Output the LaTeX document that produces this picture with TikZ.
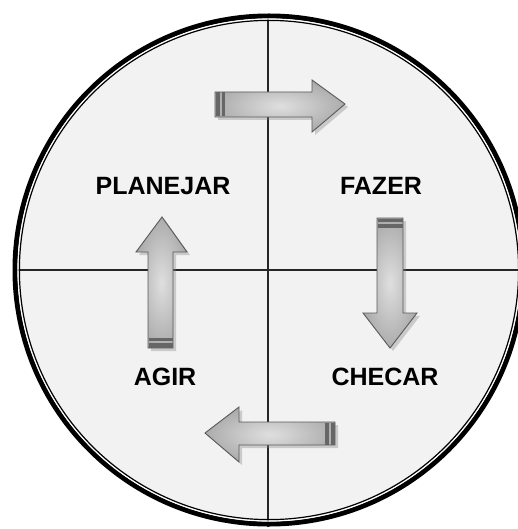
\documentclass[tikz,border=0pt]{standalone}
\usepackage{fontspec}
\newfontfamily\labelfont{Liberation Sans}
\usetikzlibrary{shadows}
\begin{document}
\begin{tikzpicture}[x=1pt, y=-1pt,
    stage/.style={font=\labelfont\bfseries\fontsize{25}{29}\selectfont, inner sep=0pt, anchor=center},
    blockarrow/.style={draw=gray!70!black, line width=0.9pt, line join=miter,
      inner color=gray!25, outer color=gray!65,
      drop shadow={shadow xshift=3pt, shadow yshift=-3pt, opacity=0.35, fill=gray}},
    tailband/.style={fill=gray!80!black, draw=none}]
    \useasboundingbox (0,0) rectangle (518,529);

    % Disc
    \fill[black!5] (269,270) circle (252);

    % Quadrant lines
    \draw[line width=2pt, black!85] (268,14) -- (268,527);
    \draw[line width=2pt, black!85] (14,270) -- (518,270);

    % Rim: thick outer ring, white gap, thin inner ring
    \draw[line width=5pt] (269,270) circle (254);
    \draw[line width=1.2pt, white] (269,270) circle (251);
    \draw[line width=1.2pt] (269,270) circle (249.6);

    % Stage labels
    \node[stage] (plan)  at (163,186) {PLANEJAR};
    \node[stage] (do)    at (381,186) {FAZER};
    \node[stage] (check) at (385,377) {CHECAR};
    \node[stage] (act)   at (165,377) {AGIR};

    % Top arrow, pointing right
    \path[blockarrow] (215,92) -- (312,92) -- (312,80) -- (345,104)
        -- (312,132) -- (312,117) -- (215,117) -- cycle;
    \fill[tailband] (215.5,92.5) rectangle (220,116.5);
    \fill[tailband] (222,92.5) rectangle (225,116.5);

    % Right arrow, pointing down
    \path[blockarrow] (377,218) -- (403,218) -- (403,313) -- (417,313)
        -- (390,348) -- (363,313) -- (377,313) -- cycle;
    \fill[tailband] (377.5,218.5) rectangle (402.5,222);
    \fill[tailband] (377.5,224) rectangle (402.5,228);

    % Bottom arrow, pointing left
    \path[blockarrow] (335,422) -- (239,422) -- (239,407) -- (205,433)
        -- (239,462) -- (239,445) -- (335,445) -- cycle;
    \fill[tailband] (334.5,422.5) rectangle (331,444.5);
    \fill[tailband] (329,422.5) rectangle (325,444.5);

    % Left arrow, pointing up
    \path[blockarrow] (173,348) -- (173,252) -- (187,252) -- (162,217)
        -- (136,252) -- (148,252) -- (148,348) -- cycle;
    \fill[tailband] (148.5,347.5) rectangle (172.5,343);
    \fill[tailband] (148.5,341) rectangle (172.5,338);
\end{tikzpicture}
\end{document}
